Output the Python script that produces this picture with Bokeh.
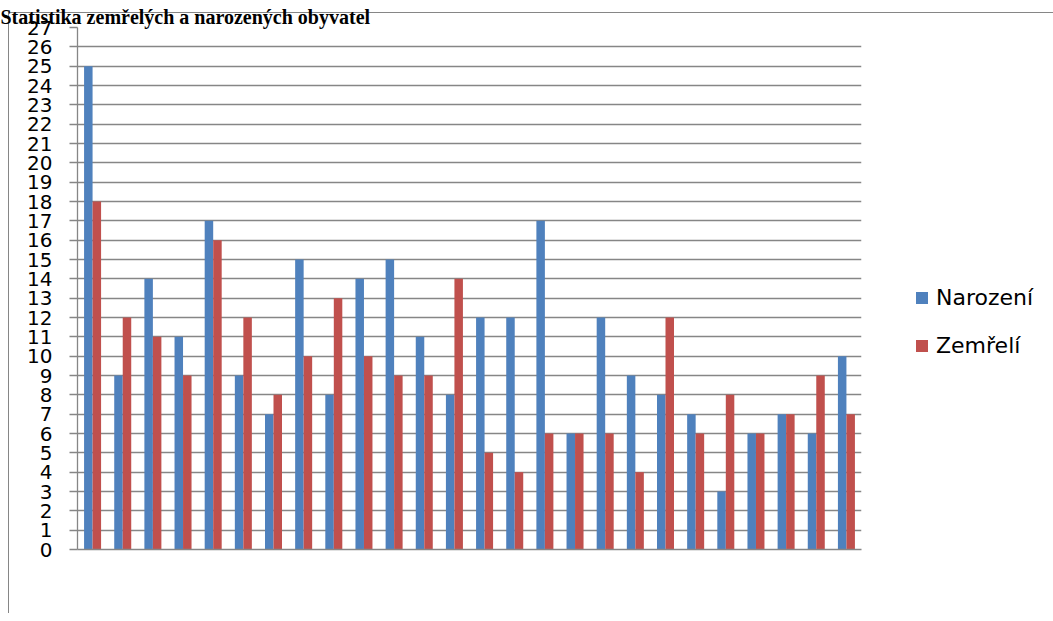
from bokeh.plotting import figure
from bokeh.models import (FactorRange, Range1d, FixedTicker, Legend, LegendItem,
                          Title, ColumnDataSource)
from bokeh.transform import dodge
from bokeh.embed import file_html
from bokeh.resources import INLINE

title_text = "Statistika zemřelých a narozených obyvatel"
categories = ["1", "2", "3", "4", "5", "6", "7", "8", "9", "10", "11", "12", "13",
              "14", "15", "16", "17", "18", "19", "20", "21", "22", "23", "24", "25", "26"]
narozeni = [25, 9, 14, 11, 17, 9, 7, 15, 8, 14, 15, 11, 8, 12, 12, 17, 6, 12, 9, 8, 7, 3, 6, 7, 6, 10]
zemreli = [18, 12, 11, 9, 16, 12, 8, 10, 13, 10, 9, 9, 14, 5, 4, 6, 6, 6, 4, 12, 6, 8, 6, 7, 9, 7]
series_names = ["Narození", "Zemřelí"]
y_ticks = [0, 1, 2, 3, 4, 5, 6, 7, 8, 9, 10, 11, 12, 13, 14, 15, 16, 17, 18, 19, 20,
           21, 22, 23, 24, 25, 26, 27]

BLUE = "#4F81BD"
RED = "#C0504D"
GRID = "#868686"

source = ColumnDataSource(data=dict(cat=categories, narozeni=narozeni, zemreli=zemreli))

chart_border = {
    "background-color": "white",
    "background-image": "linear-gradient(#868686, #868686), linear-gradient(#868686, #868686)",
    "background-size": "1px 100%, 100% 1px",
    "background-position": "8px 12px, 8px 12px",
    "background-repeat": "no-repeat",
}

p = figure(frame_width=784, frame_height=522,
           x_range=FactorRange(*categories, range_padding=0, factor_padding=0),
           y_range=Range1d(0, 27),
           output_backend="svg", toolbar_location=None,
           min_border_left=77, min_border_right=184, min_border_top=27, min_border_bottom=64,
           outline_line_color=None, border_fill_color=None,
           styles=chart_border)

bw = 0.282
r1 = p.vbar(x=dodge("cat", -bw / 2, range=p.x_range), top="narozeni", width=bw,
            source=source, fill_color=BLUE, line_color=None)
r2 = p.vbar(x=dodge("cat", bw / 2, range=p.x_range), top="zemreli", width=bw,
            source=source, fill_color=RED, line_color=None)

# axes
p.xaxis.major_label_text_font_size = "0px"
p.xaxis.major_label_text_color = None
p.xaxis.major_tick_line_color = None
p.xaxis.minor_tick_line_color = None
p.xaxis.axis_line_color = GRID
p.xaxis.axis_line_width = 1.3
p.xaxis.major_label_standoff = 0

p.yaxis.ticker = FixedTicker(ticks=y_ticks)
p.yaxis.major_label_text_font = "DejaVu Sans"
p.yaxis.major_label_text_font_size = "20px"
p.yaxis.major_label_text_color = "black"
p.yaxis.major_tick_out = 8
p.yaxis.major_tick_in = 0
p.yaxis.minor_tick_line_color = None
p.yaxis.major_tick_line_color = GRID
p.yaxis.major_tick_line_width = 1.3
p.yaxis.axis_line_color = GRID
p.yaxis.axis_line_width = 1.3
p.yaxis.major_label_standoff = 17

p.xgrid.visible = False
p.ygrid.grid_line_color = GRID
p.ygrid.grid_line_width = 1.3

legend = Legend(items=[LegendItem(label=series_names[0], renderers=[r1]),
                       LegendItem(label=series_names[1], renderers=[r2])],
                location=(53, 191), padding=0, margin=0,
                glyph_width=15, glyph_height=15, label_standoff=7, spacing=23,
                label_text_font="DejaVu Sans", label_text_font_size="22px",
                label_text_color="black",
                border_line_color=None, background_fill_alpha=0)
p.add_layout(legend, "right")

title = Title(text=title_text, align="left", offset=-77, standoff=0,
              text_font="Liberation Serif", text_font_style="bold", text_font_size="20px",
              text_color="black")
p.add_layout(title, "above")

open("out.html", "w").write(file_html(p, INLINE))
